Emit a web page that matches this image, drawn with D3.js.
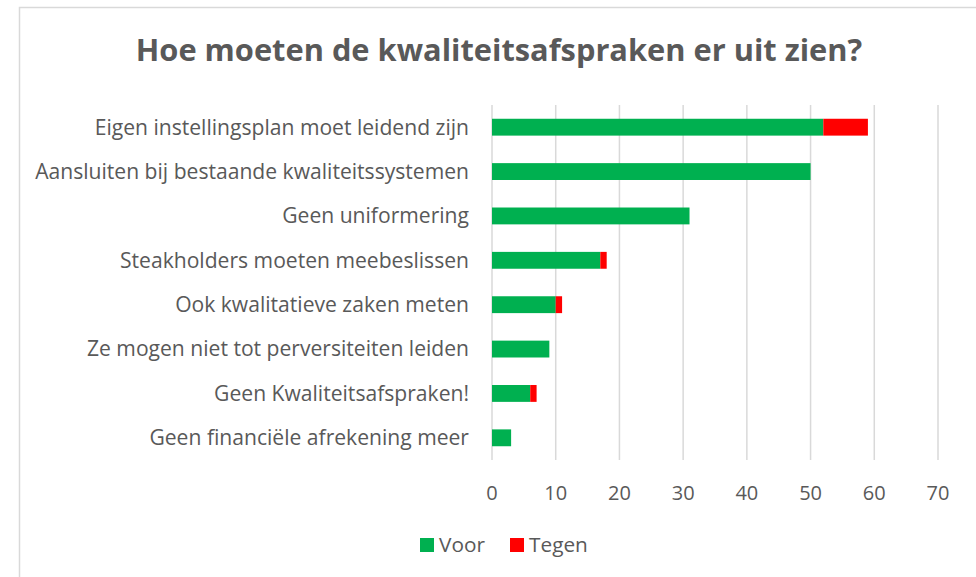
<!DOCTYPE html>
<html>
<head>
<meta charset="utf-8">
<script src="https://cdn.jsdelivr.net/npm/d3@7"></script>
<style>
  body { margin: 0; background: white; }
  svg text { font-family: "Open Sans", sans-serif; fill: #595959; }
</style>
</head>
<body>
<svg id="chart" width="976" height="577"></svg>
<script>
var categories = [
    "Eigen instellingsplan moet leidend zijn",
    "Aansluiten bij bestaande kwaliteitssystemen",
    "Geen uniformering",
    "Steakholders moeten meebeslissen",
    "Ook kwalitatieve zaken meten",
    "Ze mogen niet tot perversiteiten leiden",
    "Geen Kwaliteitsafspraken!",
    "Geen financiële afrekening meer"
];
var voor = [52, 50, 31, 17, 10, 9, 6, 3];
var tegen = [7, 0, 0, 1, 1, 0, 1, 0];
var seriesNames = ["Voor", "Tegen"];
var seriesColors = ["#00b050", "#ff0000"];
var xTicks = [0, 10, 20, 30, 40, 50, 60, 70];

var dimensions = {
    width: 976,
    height: 577,
    margin: { top: 105, bottom: 117, right: 38, left: 492 }
};

var svg = d3.select("#chart");

// chart frame
svg.append("rect")
   .attr("x", 19.5)
   .attr("y", 7.5)
   .attr("width", 1000)
   .attr("height", 600)
   .attr("fill", "none")
   .attr("stroke", "#d9d9d9")
   .attr("stroke-width", 1.5);

var xScale = d3.scaleLinear()
               .domain([0, 70])
               .range([dimensions.margin.left, dimensions.width - dimensions.margin.right]);

var yScale = d3.scaleBand()
               .domain(categories)
               .range([dimensions.margin.top, dimensions.height - dimensions.margin.bottom])
               .paddingInner(0.62)
               .paddingOuter(0.31);

// gridlines
svg.append("g")
   .selectAll("line")
   .data(xTicks)
   .enter()
   .append("line")
   .attr("x1", function(d){ return xScale(d) })
   .attr("x2", function(d){ return xScale(d) })
   .attr("y1", dimensions.margin.top)
   .attr("y2", dimensions.height - dimensions.margin.bottom)
   .attr("stroke", "#d9d9d9")
   .attr("stroke-width", 1.5);

var rows = categories.map(function(c, i){
    return { cat: c, voor: voor[i], tegen: tegen[i] };
});
var stacked = d3.stack().keys(["voor", "tegen"])(rows);

svg.append("g")
   .selectAll("g")
   .data(stacked)
   .enter()
   .append("g")
   .attr("fill", function(d, i){ return seriesColors[i] })
   .selectAll("rect")
   .data(function(d){ return d })
   .enter()
   .append("rect")
   .attr("x", function(d){ return xScale(d[0]) })
   .attr("width", function(d){ return xScale(d[1]) - xScale(d[0]) })
   .attr("y", function(d){ return yScale(d.data.cat) })
   .attr("height", yScale.bandwidth());

// category labels
svg.append("g")
   .selectAll("text")
   .data(categories)
   .enter()
   .append("text")
   .attr("x", 469)
   .attr("y", function(d){ return yScale(d) + yScale.bandwidth() / 2 })
   .attr("dy", "0.35em")
   .attr("text-anchor", "end")
   .style("font-size", "21.1px")
   .text(function(d){ return d });

// x axis labels
svg.append("g")
   .selectAll("text")
   .data(xTicks)
   .enter()
   .append("text")
   .attr("x", function(d){ return xScale(d) })
   .attr("y", 493)
   .attr("dy", "0.35em")
   .attr("text-anchor", "middle")
   .style("font-size", "20px")
   .text(function(d){ return d });

// title
svg.append("text")
   .attr("x", 499)
   .attr("y", 50)
   .attr("dy", "0.35em")
   .attr("text-anchor", "middle")
   .style("font-size", "30.8px")
   .style("font-weight", "bold")
   .text("Hoe moeten de kwaliteitsafspraken er uit zien?");

// legend
var legend = svg.append("g")
                .selectAll("g")
                .data(seriesNames)
                .enter()
                .append("g")
                .attr("transform", function(d, i){ return "translate(" + (420 + i * 90) + ",545)" });
legend.append("rect")
      .attr("x", 0)
      .attr("y", -7)
      .attr("width", 14)
      .attr("height", 14)
      .attr("fill", function(d, i){ return seriesColors[i] });
legend.append("text")
      .attr("x", 19)
      .attr("y", 0)
      .attr("dy", "0.35em")
      .style("font-size", "20.8px")
      .text(function(d){ return d });
</script>
</body>
</html>
